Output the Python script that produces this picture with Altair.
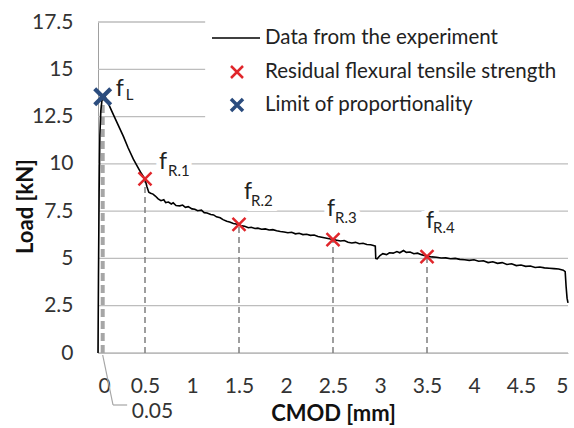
import altair as alt
import pandas as pd

# ---- data ----
cmod = [0.0, 0.005, 0.012, 0.02, 0.03, 0.045, 0.07, 0.1, 0.15, 0.21, 0.27, 0.32, 0.376, 0.42, 0.46, 0.5,
        0.52, 0.54, 0.56, 0.585, 0.61, 0.64, 0.67, 0.7, 0.72, 0.75, 0.78, 0.8, 0.83, 0.87, 0.9, 0.93,
        0.96, 1.0, 1.03, 1.06, 1.1, 1.13, 1.16, 1.2, 1.23, 1.26, 1.3, 1.33, 1.37, 1.4, 1.44, 1.47, 1.5,
        1.53, 1.56, 1.6, 1.63, 1.67, 1.7, 1.74, 1.78, 1.82, 1.86, 1.9, 1.94, 1.98, 2.02, 2.06, 2.1,
        2.14, 2.18, 2.22, 2.26, 2.3, 2.34, 2.38, 2.42, 2.46, 2.5, 2.54, 2.58, 2.62, 2.66, 2.7, 2.74,
        2.78, 2.82, 2.86, 2.9, 2.93, 2.95, 2.955, 2.97, 3.0, 3.03, 3.07, 3.1, 3.14, 3.18, 3.21, 3.25,
        3.28, 3.32, 3.36, 3.4, 3.44, 3.47, 3.5, 3.55, 3.6, 3.65, 3.7, 3.75, 3.8, 3.85, 3.9, 3.95, 4.0,
        4.05, 4.1, 4.15, 4.2, 4.25, 4.3, 4.35, 4.4, 4.45, 4.5, 4.55, 4.6, 4.65, 4.7, 4.75, 4.8, 4.85,
        4.9, 4.95, 4.97, 4.98, 4.99, 5.0]
load = [0.0, 4.0, 8.5, 11.5, 12.8, 13.5, 13.6, 13.3, 12.75, 12.1, 11.45, 10.85, 10.25, 9.85, 9.5, 9.2,
        8.8, 8.5, 8.45, 8.4, 8.3, 8.15, 8.05, 8.1, 7.95, 7.98, 7.88, 7.94, 7.8, 7.78, 7.82, 7.7,
        7.74, 7.62, 7.6, 7.52, 7.55, 7.42, 7.4, 7.32, 7.3, 7.2, 7.15, 7.05, 6.97, 6.92, 6.85, 6.82, 6.78,
        6.72, 6.7, 6.62, 6.65, 6.58, 6.6, 6.54, 6.56, 6.5, 6.52, 6.46, 6.42, 6.4, 6.36, 6.38, 6.3,
        6.33, 6.26, 6.28, 6.22, 6.24, 6.16, 6.12, 6.08, 6.04, 6.0, 5.96, 5.92, 5.95, 5.86, 5.82, 5.85,
        5.78, 5.8, 5.74, 5.72, 5.68, 5.65, 5.0, 4.98, 5.15, 5.25, 5.2, 5.3, 5.28, 5.36, 5.3, 5.42,
        5.32, 5.34, 5.25, 5.28, 5.2, 5.16, 5.12, 5.08, 5.06, 5.02, 5.03, 4.98, 5.0, 4.95, 4.93, 4.9, 4.93,
        4.85, 4.88, 4.78, 4.82, 4.74, 4.78, 4.68, 4.72, 4.62, 4.65, 4.58, 4.6, 4.52, 4.55, 4.5, 4.48, 4.46,
        4.44, 4.38, 4.3, 3.5, 2.9, 2.65]

fr_x = [0.5, 1.5, 2.5, 3.5]
fr_y = [9.2, 6.8, 6.0, 5.1]
fr_sub = ["R.1", "R.2", "R.3", "R.4"]
fl_x = [0.05]
fl_y = [13.55]
fl_sub = ["L"]

y_ticks = [0, 2.5, 5, 7.5, 10, 12.5, 15, 17.5]
x_ticks = [0, 0.5, 1, 1.5, 2, 2.5, 3, 3.5, 4, 4.5, 5]

legend_labels = ["Data from the experiment", "Residual flexural tensile strength", "Limit of proportionality"]
legend_box = {"x": [1.14], "x2": [5.0], "y": [17.66], "y2": [12.16]}  # white box behind legend (data units)
leader_x = [0.05, 0.16, 0.31]
leader_label = "0.05"

FONT = "Lato"
RED = "#E0262B"
BLUE = "#2B4C7E"
XPATH = "M-1,-1L1,1M-1,1L1,-1"
LBL = "#333333"
GRID = "#BDBDBD"

W, H = 470, 331

xs = alt.Scale(domain=[0, 5], nice=False)
ys = alt.Scale(domain=[0, 17.5], nice=False)

curve_df = pd.DataFrame({"x": cmod, "y": load})
fr_df = pd.DataFrame({"x": fr_x, "y": fr_y, "sub": fr_sub})
fr_df["y0"] = 0.0
fl_df = pd.DataFrame({"x": fl_x, "y": fl_y, "sub": fl_sub})
fl_df["y0"] = 0.0
grid_df = pd.DataFrame({"y": y_ticks})

xaxis = alt.Axis(values=x_ticks, labelExpr="'' + datum.value", grid=False, ticks=False,
                 domainColor=GRID, labelFont=FONT, labelFontSize=21, labelColor=LBL,
                 labelPadding=22, title="CMOD [mm]", titleFont=FONT, titleFontSize=22,
                 titleFontWeight="bold", titleColor="#111111", titleBaseline="middle", titleY=60)
yaxis = alt.Axis(values=y_ticks, labelExpr="'' + datum.value", grid=False, ticks=False,
                 domainColor="#A0A0A0", labelFont=FONT, labelFontSize=21, labelColor=LBL,
                 labelPadding=25, title="Load [kN]", titleFont=FONT, titleFontSize=22,
                 titleFontWeight="bold", titleColor="#111111", titleAngle=270, titleAlign="center",
                 titleBaseline="middle", titleX=-73, titleY=184)

X = lambda f="x:Q": alt.X(f, scale=xs, axis=xaxis)
Y = lambda f="y:Q": alt.Y(f, scale=ys, axis=yaxis)

# horizontal gridlines (full-width rules)
grid = alt.Chart(grid_df).mark_rule(color=GRID, strokeWidth=1.3).encode(y=Y())

# legend background box
leg_bg = alt.Chart(pd.DataFrame(legend_box)).mark_rect(color="white").encode(
    x=X(), x2="x2:Q", y=Y(), y2="y2:Q")

# dashed verticals
fr_drop = alt.Chart(fr_df).mark_rule(color="#7F7F7F", strokeWidth=1.5, strokeDash=[6, 4]).encode(
    x=X(), y=Y("y0:Q"), y2="y:Q")
fl_drop = alt.Chart(fl_df).mark_rule(color="#A6A6A6", strokeWidth=4, strokeDash=[8, 4]).encode(
    x=X(), y=Y("y0:Q"), y2="y:Q")

# leader for 0.05
ld1 = pd.DataFrame({"x": [leader_x[0]], "x2": [leader_x[1]]})
ld2 = pd.DataFrame({"x": [leader_x[1]], "x2": [leader_x[2]]})
leader1 = alt.Chart(ld1).mark_rule(color="#A6A6A6", strokeWidth=1.2).encode(
    x=X(), x2="x2:Q", y=alt.value(H + 2), y2=alt.value(H + 52))
leader2 = alt.Chart(ld2).mark_rule(color="#A6A6A6", strokeWidth=1.2).encode(
    x=X(), x2="x2:Q", y=alt.value(H + 52), y2=alt.value(H + 52))
leader_txt = alt.Chart(pd.DataFrame({"x": [leader_x[0]], "t": [leader_label]})).mark_text(
    align="left", baseline="middle", font=FONT, fontSize=21, color=LBL, dx=29).encode(
    x=X(), y=alt.value(H + 59), text="t:N")

curve = alt.Chart(curve_df).mark_line(color="black", strokeWidth=1.6).encode(
    x=X(), y=Y(), order="x:Q")

fr_pts = alt.Chart(fr_df).mark_point(shape=XPATH, filled=False, size=169, strokeWidth=2.5, color=RED,
                                     opacity=1).encode(x=X(), y=Y())
fl_pts = alt.Chart(fl_df).mark_point(shape=XPATH, filled=False, size=256, strokeWidth=4.2, color=BLUE,
                                     opacity=1).encode(x=X(), y=Y())

# labels f_sub
offsets = [  # (df, row, f_dx, f_dy, s_dx, s_dy)
    (fl_df, 0, 13, -1, 23, 3),
    (fr_df, 0, 14, -10, 23, -3),
    (fr_df, 1, 5, -25, 12, -18),
    (fr_df, 2, -6, -24, 2, -17),
    (fr_df, 3, -1, -29, 6, -24),
]
label_layers = []
halo_layers = []
for df, i, fdx, fdy, sdx, sdy in offsets:
    row = df.iloc[[i]].reset_index(drop=True).assign(f="f")
    for halo in (True, False):
        kw = dict(stroke="white", strokeWidth=10) if halo else {}
        col = "white" if halo else "#222222"
        ft = alt.Chart(row).mark_text(align="left", baseline="alphabetic", font=FONT, fontSize=23,
                                      color=col, dx=fdx, dy=fdy, **kw).encode(x=X(), y=Y(), text="f:N")
        st = alt.Chart(row).mark_text(align="left", baseline="alphabetic", font=FONT, fontSize=15,
                                      color=col, dx=sdx, dy=sdy, **kw).encode(x=X(), y=Y(), text="sub:N")
        (halo_layers if halo else label_layers).extend([ft, st])

# legend (manual)
one = pd.DataFrame({"a": [0]})
leg_line = alt.Chart(one).mark_rule(color="black", strokeWidth=1.6).encode(
    x=alt.value(114), x2=alt.value(162), y=alt.value(16), y2=alt.value(16))
leg_red = alt.Chart(one).mark_point(shape=XPATH, filled=False, size=144, strokeWidth=2.5, color=RED,
                                    opacity=1).encode(x=alt.value(139), y=alt.value(50))
leg_blue = alt.Chart(one).mark_point(shape=XPATH, filled=False, size=144, strokeWidth=3.5, color=BLUE,
                                     opacity=1).encode(x=alt.value(139), y=alt.value(83))
leg_texts = [
    alt.Chart(pd.DataFrame({"t": [lbl]})).mark_text(align="left", baseline="middle", font=FONT,
                                                    fontSize=20.5, color="#222222").encode(
        x=alt.value(167), y=alt.value(yy), text="t:N")
    for lbl, yy in zip(legend_labels, [16, 50, 83])
]

chart = alt.layer(
    grid, leg_bg, *halo_layers, fr_drop, fl_drop, leader1, leader2, leader_txt, curve,
    fr_pts, fl_pts, *label_layers, leg_line, leg_red, leg_blue, *leg_texts
).properties(
    width=W, height=H,
    autosize=alt.AutoSizeParams(type="none"),
    padding={"left": 98, "top": 22, "right": 6, "bottom": 75},
).configure_view(stroke=None)

chart.save("out.html", embed_options={"renderer": "svg", "actions": False})
